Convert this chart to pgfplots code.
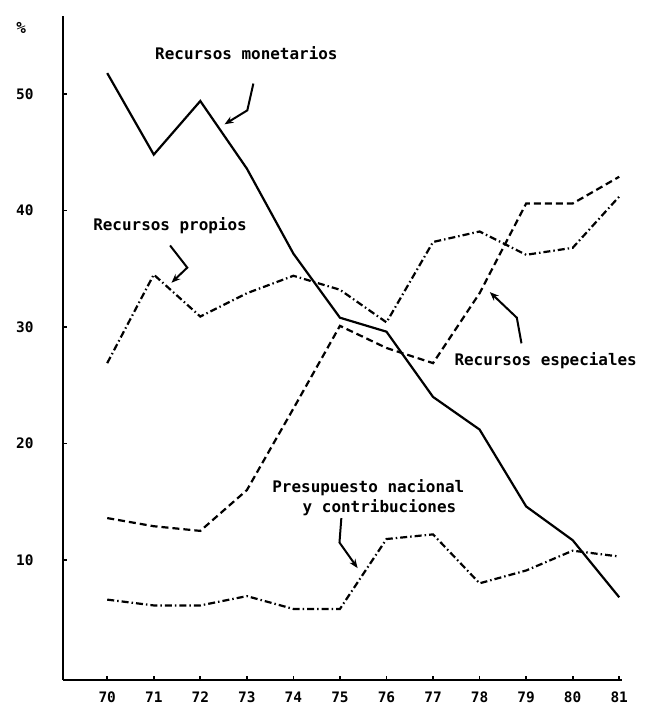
\documentclass[border=0pt]{standalone}
\usepackage{fontspec}
\setmainfont{DejaVu Sans Mono}
\usepackage{pgfplots}
\pgfplotsset{compat=1.18}
\usetikzlibrary{arrows.meta}
\begin{document}
\begin{tikzpicture}[font=\bfseries]
\begin{axis}[
  scale only axis, width=559bp, height=664bp,
  xmin=69.05, xmax=81.06, ymin=-0.3, ymax=56.7,
  axis lines=left, axis line style={-, line width=2.2bp},
  clip=false,
  xtick={70,...,81}, ytick={10,20,30,40,50},
  major tick length=4bp, tick style={line width=1.8bp, black},
  tick align=inside,
  /pgf/number format/assume math mode=true,
  ticklabel style={font=\fontsize{14.5}{16}\selectfont\bfseries},
  yticklabel style={xshift=-26bp},
  xticklabel style={yshift=-8bp},
]
\addplot[black, line width=2.2bp] coordinates {
(70,51.8)(71,44.8)(72,49.4)(73,43.6)(74,36.3)(75,30.8)(76,29.6)(77,24.0)(78,21.2)(79,14.6)(80,11.7)(81,6.8)};
\addplot[black, line width=2.2bp, dash pattern=on 7bp off 4bp] coordinates {
(70,13.6)(71,12.9)(72,12.5)(73,16.0)(74,23.0)(75,30.1)(76,28.2)(77,26.9)(78,32.9)(79,40.6)(80,40.6)(81,42.9)};
\addplot[black, line width=2.2bp, dash pattern=on 7bp off 3bp on 1.5bp off 3bp] coordinates {
(70,26.9)(71,34.5)(72,30.9)(73,32.9)(74,34.4)(75,33.2)(76,30.4)(77,37.3)(78,38.2)(79,36.2)(80,36.8)(81,41.2)};
\addplot[black, line width=2.2bp, dash pattern=on 7bp off 3bp on 1.5bp off 3bp] coordinates {
(70,6.6)(71,6.1)(72,6.1)(73,6.9)(74,5.8)(75,5.8)(76,11.8)(77,12.2)(78,8.0)(79,9.1)(80,10.8)(81,10.3)};
\coordinate (ll) at (rel axis cs:0,0);
\coordinate (ur) at (rel axis cs:1,1);
\begin{scope}[every node/.style={font=\fontsize{16}{18}\selectfont\bfseries, inner sep=0pt}]
\node at (axis cs:72.99,53.5) {Recursos monetarios};
\node at (axis cs:71.35,38.7) {Recursos propios};
\node at (axis cs:79.42,27.1) {Recursos especiales};
\node at (axis cs:75.61,16.2) {Presupuesto nacional};
\node at (axis cs:75.85,14.5) {y contribuciones};
\node at (axis cs:68.15,55.7) {\%};
\end{scope}
\begin{scope}[line width=2bp, -{Stealth[length=9bp,width=7bp]}]
\draw (axis cs:73.14,50.9) -- (axis cs:73.01,48.6) -- (axis cs:72.52,47.4);
\draw (axis cs:71.35,37.0) -- (axis cs:71.72,35.1) -- (axis cs:71.38,33.8);
\draw (axis cs:78.90,28.6) -- (axis cs:78.80,30.8) -- (axis cs:78.22,33.0);
\draw (axis cs:75.03,13.6) -- (axis cs:74.99,11.5) -- (axis cs:75.38,9.3);
\end{scope}
\end{axis}
\pgfresetboundingbox
\path ([shift={(-63bp,-29bp)}]ll) rectangle ([shift={(22bp,16bp)}]ur);
\end{tikzpicture}
\end{document}
